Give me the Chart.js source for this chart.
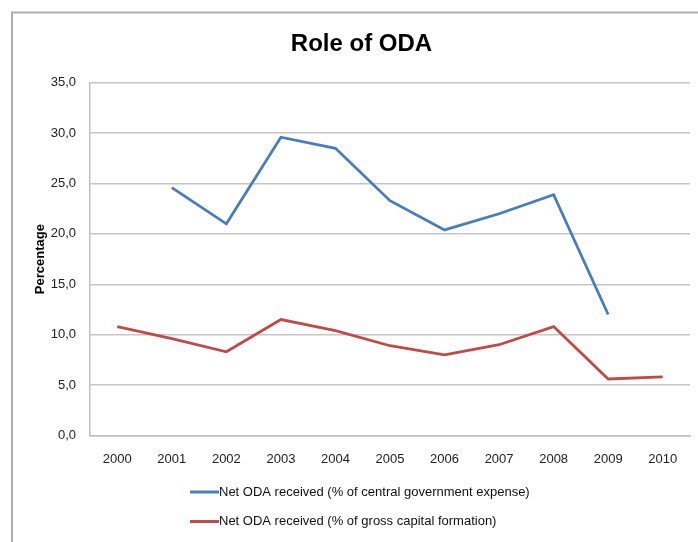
<!DOCTYPE html>
<html>
<head>
<meta charset="utf-8">
<script src="https://cdn.jsdelivr.net/npm/chart.js@4"></script>
<style>
  html, body { margin: 0; padding: 0; background: #fff; }
  #wrap { width: 698px; height: 542px; }
</style>
</head>
<body>
<div id="wrap"><canvas id="myChart" width="698" height="542"></canvas></div>
<script>
// Role of ODA
const years = ['2000', '2001', '2002', '2003', '2004', '2005', '2006', '2007', '2008', '2009', '2010'];
const govExpense = [null, 24.6, 21.0, 29.6, 28.5, 23.3, 20.4, 22.0, 23.9, 12.0, null];
const capitalFormation = [10.8, 9.6, 8.3, 11.5, 10.4, 8.9, 8.0, 9.0, 10.8, 5.6, 5.8];

const FONT = "'Liberation Sans', Arial, sans-serif";

// excel style frame round the chart + legend stacked under it
const frameAndLegend = {
    id: 'frameAndLegend',
    beforeDraw(chart) {
        const c = chart.ctx;
        c.save();
        c.strokeStyle = '#b0b0b0';
        c.lineWidth = 2;
        c.strokeRect(12, 12.5, 720, 560);
        c.restore();
    },
    afterDraw(chart) {
        const c = chart.ctx;
        c.save();
        c.font = '13px ' + FONT;
        c.textBaseline = 'middle';
        chart.data.datasets.forEach((ds, i) => {
            const y = 492 + i * 29.5;
            c.strokeStyle = ds.borderColor;
            c.lineWidth = 3;
            c.beginPath();
            c.moveTo(190, y);
            c.lineTo(219, y);
            c.stroke();
            c.fillStyle = '#111';
            c.fillText(ds.label, 219, y);
        });
        c.restore();
    }
};

const ctx = document.getElementById('myChart').getContext('2d');
const myChart = new Chart(ctx, {
    type: 'line',
    data: {
        labels: years,
        datasets: [{
            label: 'Net ODA received (% of central government expense)',
            data: govExpense,
            borderColor: '#4a7ebb',
            backgroundColor: '#4a7ebb',
            borderWidth: 2.8,
            pointRadius: 0,
            tension: 0
        }, {
            label: 'Net ODA received (% of gross capital formation)',
            data: capitalFormation,
            borderColor: '#be4b48',
            backgroundColor: '#be4b48',
            borderWidth: 2.8,
            pointRadius: 0,
            tension: 0
        }]
    },
    options: {
        responsive: false,
        animation: false,
        layout: {
            padding: { left: 33, right: 8, top: 0, bottom: 59 }
        },
        plugins: {
            legend: { display: false },
            tooltip: { enabled: false },
            title: {
                display: true,
                text: 'Role of ODA',
                color: '#000',
                font: { family: FONT, size: 24, weight: 'bold' },
                padding: { top: 30, bottom: 24 }
            }
        },
        scales: {
            x: {
                offset: true,
                grid: { display: false, drawTicks: false },
                border: { color: '#bfbfbf', width: 1.5 },
                ticks: { color: '#222', font: { family: FONT, size: 13 }, padding: 16, maxRotation: 0 }
            },
            y: {
                min: 0,
                max: 35,
                afterFit(scale) { scale.width = 57; },
                grid: { color: '#c6c6c6', lineWidth: 1.5, drawTicks: false },
                border: { color: '#bfbfbf', width: 1.5 },
                ticks: {
                    stepSize: 5,
                    color: '#222',
                    padding: 14,
                    font: { family: FONT, size: 13 },
                    callback: (v) => v.toFixed(1).replace('.', ',')
                },
                title: {
                    display: true,
                    text: 'Percentage',
                    color: '#000',
                    font: { family: FONT, size: 13, weight: 'bold' },
                    padding: { top: 0, bottom: 0 }
                }
            }
        }
    },
    plugins: [frameAndLegend]
});
</script>
</body>
</html>
